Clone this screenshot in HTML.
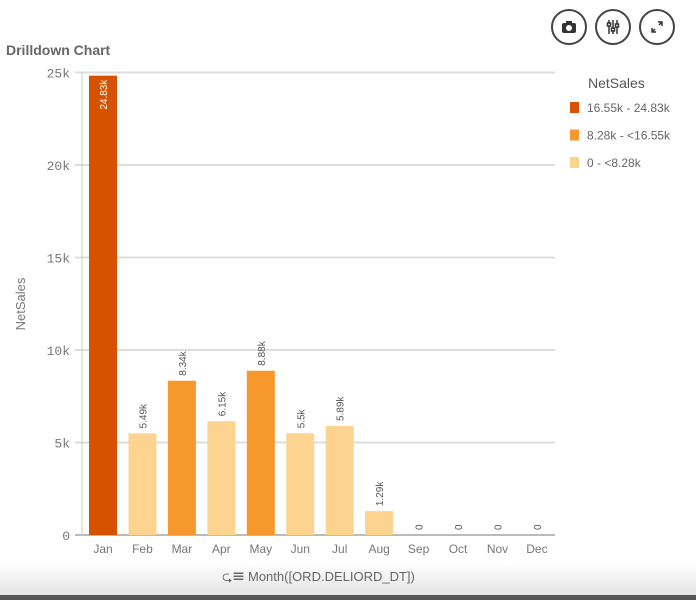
<!DOCTYPE html>
<html><head><meta charset="utf-8"><style>
body{margin:0;width:696px;height:600px;background:#fff;overflow:hidden;font-family:"Liberation Sans",sans-serif;position:relative}
.btn{position:absolute;top:9px;width:36px;height:36px;border:2px solid #444;border-radius:50%;box-sizing:border-box;display:flex;align-items:center;justify-content:center;color:#333;font-size:14px}
</style></head><body>
<div class="btn" style="left:551px"><svg width="16" height="14"><rect x="1" y="3" width="14" height="10" rx="2" fill="#333"/><rect x="5" y="1" width="6" height="3" fill="#333"/><circle cx="8" cy="8" r="3" fill="#fff"/></svg></div>
<div class="btn" style="left:595px"><svg width="16" height="18" stroke="#333" stroke-width="1.5"><line x1="4" y1="2" x2="4" y2="16"/><line x1="8" y1="2" x2="8" y2="16"/><line x1="12" y1="2" x2="12" y2="16"/><rect x="2.5" y="5" width="3" height="3" fill="#fff"/><rect x="6.5" y="10" width="3" height="3" fill="#fff"/><rect x="10.5" y="6" width="3" height="3" fill="#fff"/></svg></div>
<div class="btn" style="left:639px"><svg width="16" height="16" stroke="#333" stroke-width="1.5"><line x1="3" y1="13" x2="6" y2="10"/><line x1="10" y1="6" x2="13" y2="3"/><path d="M3 9v4h4M13 7V3H9" fill="none"/></svg></div>
<div style="position:absolute;left:6px;top:42px;font-size:14px;font-weight:bold;color:#666">Drilldown Chart</div>
<div style="position:absolute;left:0;top:562px;width:696px;height:33px;background:linear-gradient(#fff,#e4e4e4)"></div>
<div style="position:absolute;left:0;top:595px;width:696px;height:5px;background:#555"></div>
<svg id="c" width="696" height="600" style="position:absolute;left:0;top:0"></svg>
<script>
const months=["Jan","Feb","Mar","Apr","May","Jun","Jul","Aug","Sep","Oct","Nov","Dec"];
const values=[24830,5490,8340,6150,8880,5500,5890,1290,0,0,0,0];
const labels=["24.83k","5.49k","8.34k","6.15k","8.88k","5.5k","5.89k","1.29k","0","0","0","0"];
const yTicks=[0,5000,10000,15000,20000,25000];
const yTickLabels=["0","5k","10k","15k","20k","25k"];
const legendLabels=["16.55k - 24.83k","8.28k - <16.55k","0 - <8.28k"];
const legendColors=["#d65200","#f7982d","#fdd48f"];
const NS="http://www.w3.org/2000/svg",svg=document.getElementById('c');
const y0=535,yMax=25000,yTop=72.5;
const y=v=>y0-(v/yMax)*(y0-yTop);
const x=i=>103+i*39.45;
function mk(t,a,p){const e=document.createElementNS(NS,t);for(const k in a)e.setAttribute(k,a[k]);(p||svg).appendChild(e);return e;}
yTicks.forEach((t,i)=>{
 const l=mk('line',{x1:75,x2:555,y1:y(t),y2:y(t),stroke:i==0?'#bbb':'#ddd','stroke-width':2});
 
 
 const tx=mk('text',{x:70,y:y(t)+5,'text-anchor':'end','font-size':13,fill:'#777','font-family':'Liberation Mono, monospace'});
 tx.textContent=yTickLabels[i];
 
 
});
const ax=mk('line',{x1:82,x2:82,y1:72,y2:535,stroke:'#ccc','stroke-width':1});


const col=v=>v>=16550?legendColors[0]:v>=8280?legendColors[1]:legendColors[2];
values.forEach((v,i)=>{
 const b=mk('rect',{x:x(i)-14,y:y(v),width:28,height:y0-y(v),fill:col(v)});
 
 
 let ly,fill;
 if(v>20000){ly=y(v)+5;fill:'#fff'}
 const inside=v>20000;
 const lx=x(i)+4, lyy=inside?y(v)+4:(v>0?y(v)-5:y0-5);
 const t=mk('text',{x:lx,y:lyy,'font-size':10,fill:inside?'#fff':'#555','text-anchor':inside?'start':'start',transform:`rotate(-90 ${lx} ${lyy})`,'font-family':'Liberation Sans, sans-serif'});
 if(inside){t.setAttribute('text-anchor','end');}
 t.textContent=labels[i];
 
 
 const m=mk('text',{x:x(i),y:553,'text-anchor':'middle','font-size':12,fill:'#777'});
 m.textContent=months[i];
 
 
});
const yt=mk('text',{x:25,y:304,'text-anchor':'middle','font-size':13,fill:'#777',transform:'rotate(-90 25 304)'});
yt.textContent='NetSales';


const xt=mk('text',{x:248,y:581,'font-size':13,fill:'#666'});
xt.textContent='Month([ORD.DELIORD_DT])';


const ic=mk('text',{x:222,y:581,'font-size':13,fill:'#666'});
ic.textContent='⮎☰';


const lt=mk('text',{x:588,y:88,'font-size':14,fill:'#555'});
lt.textContent='NetSales';


legendLabels.forEach((s,i)=>{
 const yy=102+i*27.5;
 const r=mk('rect',{x:570,y:yy,width:9,height:11,fill:legendColors[i]});
 
 
 const t=mk('text',{x:587,y:yy+10,'font-size':12,fill:'#666'});
 t.textContent=s;
 
 
});
</script>
</body></html>
